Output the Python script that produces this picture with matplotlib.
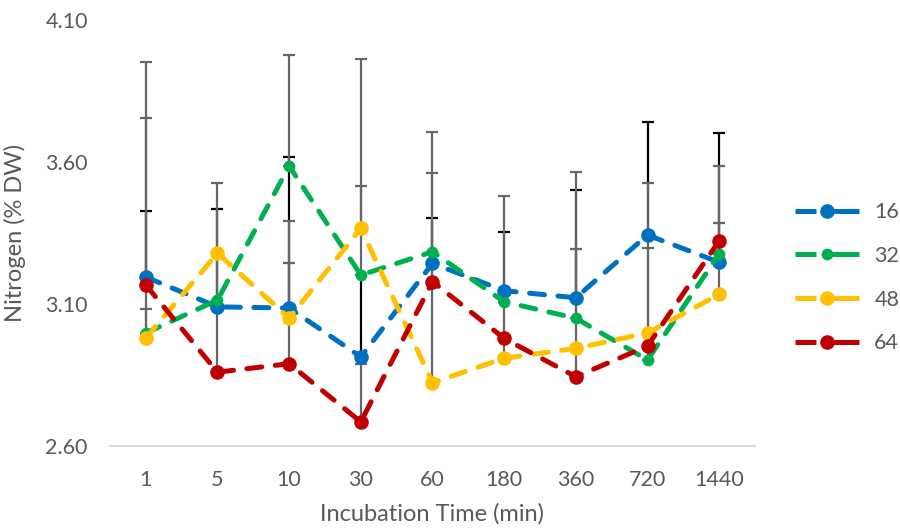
import matplotlib
matplotlib.use("Agg")
import matplotlib.pyplot as plt
from matplotlib.lines import Line2D
import numpy as np

plt.rcParams['font.family'] = ['Lato', 'DejaVu Sans']

categories = ["1", "5", "10", "30", "60", "180", "360", "720", "1440"]
series_names = ["16", "32", "48", "64"]

n16 = [3.195, 3.090, 3.086, 2.914, 3.243, 3.147, 3.122, 3.343, 3.247]
n32 = [2.998, 3.114, 3.586, 3.202, 3.284, 3.108, 3.050, 2.903, 3.276]
n48 = [2.980, 3.279, 3.050, 3.367, 2.823, 2.909, 2.944, 2.998, 3.134]
n64 = [3.167, 2.860, 2.890, 2.685, 3.179, 2.979, 2.844, 2.952, 3.323]

# upper (plus-direction) error bar values
err16 = [0.233, 0.344, 0.532, 0.288, 0.160, 0.207, 0.379, 0.399, 0.455]
err32 = [0.758, 0.000, 0.391, 0.313, 0.000, 0.000, 0.243, 0.624, 0.109]
err48 = [0.102, 0.000, 0.194, 0.596, 0.881, 0.573, 0.000, 0.000, 0.452]
err64 = [0.786, 0.666, 0.502, 0.204, 0.381, 0.000, 0.722, 0.346, 0.000]

values = [n16, n32, n48, n64]
errors = [err16, err32, err48, err64]
colors = ["#0070C0", "#00B050", "#FFC000", "#C00000"]
err_colors = ["#000000", "#666666", "#666666", "#666666"]
msizes = [10.5, 8.5, 10.5, 10.5]

fig = plt.figure(figsize=(9, 5.31), dpi=100)
ax = fig.add_axes([0.1222, 0.16, 0.7167, 0.8023])

x = np.arange(len(categories))
lw = 3.6

for i, (vals, errs) in enumerate(zip(values, errors)):
    ax.errorbar(x, vals, yerr=[np.zeros(len(errs)), errs], fmt='none',
                ecolor=err_colors[i], elinewidth=1.6, capsize=4.3,
                capthick=1.6, zorder=2 + 0.1 * i)

for i, vals in enumerate(values):
    ax.plot(x, vals, color=colors[i], lw=lw, dashes=(3.0, 2.7),
            dash_capstyle='round', marker='o', ms=msizes[i],
            markeredgewidth=0, zorder=3 + 0.1 * i)

ax.set_xlim(-0.5, len(categories) - 0.5)
ax.set_ylim(2.60, 4.10)
ax.set_yticks([2.60, 3.10, 3.60, 4.10])
ax.set_yticklabels(["2.60", "3.10", "3.60", "4.10"])
ax.set_xticks(x)
ax.set_xticklabels(categories)
ax.tick_params(axis='both', length=0, labelsize=15.5, colors="#595959")
ax.tick_params(axis='y', pad=16)
ax.tick_params(axis='x', pad=17)

for s in ['top', 'right', 'left']:
    ax.spines[s].set_visible(False)
ax.spines['bottom'].set_color("#D9D9D9")
ax.spines['bottom'].set_linewidth(1.5)

ax.set_xlabel("Incubation Time (min)", fontsize=17, color="#595959", labelpad=10)
ax.set_ylabel("Nitrogen (% DW)", fontsize=17, color="#595959", labelpad=14)

handles = []
for i in range(4):
    handles.append(Line2D([0], [0], color=colors[i], lw=lw,
                          linestyle=(0, (4.2, 1.6, 8)), dash_capstyle='butt',
                          marker='o', ms=msizes[i], markeredgewidth=0))
leg = fig.legend(handles, series_names, loc='center left',
                 bbox_to_anchor=(0.883, 0.477), frameon=False,
                 fontsize=15.5, handlelength=3.0, handletextpad=0.7,
                 labelspacing=1.1, borderpad=0, borderaxespad=0)
for t in leg.get_texts():
    t.set_color("#595959")

fig.savefig("out.png", dpi=100)
